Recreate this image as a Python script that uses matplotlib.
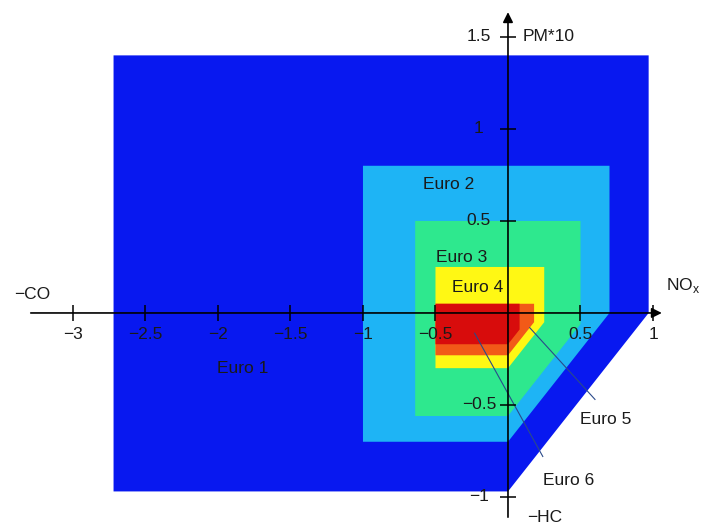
import matplotlib
matplotlib.use("Agg")
import matplotlib.pyplot as plt
import numpy as np
from matplotlib.patches import Polygon

plt.rcParams["font.family"] = ["Liberation Sans", "DejaVu Sans"]

# diesel passenger car limits (g/km)
standards = ["Euro 1", "Euro 2", "Euro 3", "Euro 4", "Euro 5", "Euro 6"]
co = [2.72, 1.0, 0.64, 0.5, 0.5, 0.5]
hc_nox = [0.97, 0.7, 0.56, 0.3, 0.23, 0.17]
nox = [0.97, 0.7, 0.5, 0.25, 0.18, 0.08]
pm = [0.14, 0.08, 0.05, 0.025, 0.005, 0.005]
colors = ["#0818f0", "#1eb4f5", "#2ee88e", "#fff814", "#f25a18", "#d80c0c"]

x_ticks = [-3, -2.5, -2, -1.5, -1, -0.5, 0.5, 1]
y_ticks = [1.5, 1, 0.5, -0.5, -1]

fig = plt.figure(figsize=(7.01, 5.24), dpi=100)
ax = fig.add_axes([0, 0, 1, 1])
ax.set_xlim(-3.503, 1.331)
ax.set_ylim(-1.147, 1.701)
ax.axis("off")

# one polygon per standard: CO to the left, NOx to the right,
# PM*10 upward and HC (via HC+NOx) downward
for c, hn, n, p, col in zip(co, hc_nox, nox, pm, colors):
    top = p * 10
    pts = [(-c, top), (n, top), (n, n - hn), (0, -hn), (-c, -hn)]
    ax.add_patch(Polygon(pts, closed=True, facecolor=col, edgecolor="none", zorder=1))

txt = "#1a1a1a"
fs = 12.5

# axes with arrows
ax.annotate("", xy=(1.08, 0), xytext=(-3.31, 0),
            arrowprops=dict(arrowstyle="-|>", color="k", lw=1.2, mutation_scale=15), zorder=5)
ax.annotate("", xy=(0, 1.65), xytext=(0, -1.125),
            arrowprops=dict(arrowstyle="-|>", color="k", lw=1.2, mutation_scale=15), zorder=5)

ax.plot(x_ticks, np.zeros(len(x_ticks)), linestyle="none", marker="|",
        ms=11, mew=1.1, color="k", zorder=6)
ax.plot(np.zeros(len(y_ticks)), y_ticks, linestyle="none", marker="_",
        ms=11, mew=1.1, color="k", zorder=6)

for t in x_ticks:
    ax.annotate("{:g}".format(t).replace("-", "\u2212"), xy=(t, 0), xytext=(0, -22),
                textcoords="offset pixels", ha="center", va="center",
                fontsize=fs, color=txt, zorder=7)
for t in y_ticks:
    ax.annotate("{:g}".format(t).replace("-", "\u2212"), xy=(0, t), xytext=(-29, 0),
                textcoords="offset pixels", ha="center", va="center",
                fontsize=fs, color=txt, zorder=7)

# axis names
ax.text(-3.28, 0.10, "\u2212CO", ha="center", va="center", fontsize=fs, color=txt)
ax.text(1.09, 0.15, r"NO$_\mathregular{x}$", ha="left", va="center", fontsize=fs, color=txt)
ax.text(0.10, 1.50, "PM*10", ha="left", va="center", fontsize=fs, color=txt)
ax.text(0.13, -1.11, "\u2212HC", ha="left", va="center", fontsize=fs, color=txt)

# standard names
ax.text(-1.83, -0.30, standards[0], ha="center", va="center", fontsize=fs, color=txt, zorder=7)
ax.text(-0.41, 0.70, standards[1], ha="center", va="center", fontsize=fs, color=txt, zorder=7)
ax.text(-0.32, 0.30, standards[2], ha="center", va="center", fontsize=fs, color=txt, zorder=7)
ax.text(-0.21, 0.14, standards[3], ha="center", va="center", fontsize=fs, color=txt, zorder=7)
ax.text(0.50, -0.58, standards[4], ha="left", va="center", fontsize=fs, color=txt, zorder=7)
ax.text(0.24, -0.91, standards[5], ha="left", va="center", fontsize=fs, color=txt, zorder=7)

# leader lines for the two smallest areas
ax.plot([0.15, 0.60], [-0.08, -0.47], color="#2a4a8a", lw=0.8, zorder=4)
ax.plot([-0.23, 0.24], [-0.11, -0.78], color="#2a4a8a", lw=0.8, zorder=4)

fig.savefig("out.png", dpi=100)
